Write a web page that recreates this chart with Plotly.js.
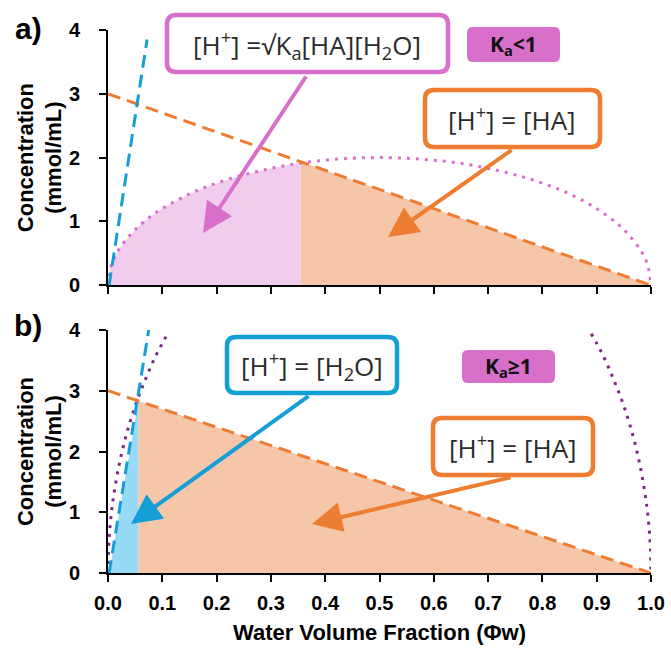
<!DOCTYPE html>
<html><head><meta charset="utf-8">
<script src="https://cdn.plot.ly/plotly-3.0.1.min.js"></script>
<style>html,body{margin:0;padding:0;background:#fff}#chart{width:671px;height:654px}</style>
</head><body><div id="chart"></div>
<script>
// ---- data ----
const xTicks = [0,0.1,0.2,0.3,0.4,0.5,0.6,0.7,0.8,0.9,1.0];
const xTickText = ['0.0','0.1','0.2','0.3','0.4','0.5','0.6','0.7','0.8','0.9','1.0'];
const yTicks = [0,1,2,3,4];

// [HA] line (both panels)
const haX = [0, 1];
const haY = [3, 0];

// [H2O] line
const h2oTopX = [0.002, 0.072];
const h2oTopY = [0, 3.85];
const h2oBotX = [0.002, 0.075];
const h2oBotY = [0, 4.0];

// sqrt(Ka[HA][H2O]) curve, Ka<1 panel
const sqrtAX = [0,0.005,0.01,0.02,0.04,0.06,0.08,0.1,0.15,0.2,0.25,0.3,0.35,0.4,0.45,0.5,0.55,0.6,0.65,0.7,0.75,0.8,0.85,0.9,0.94,0.96,0.98,0.99,0.995,1.0];
const sqrtAY = [0,0.28,0.40,0.56,0.78,0.95,1.09,1.20,1.43,1.60,1.73,1.83,1.91,1.96,1.99,2.00,1.99,1.96,1.91,1.83,1.73,1.60,1.43,1.20,0.95,0.78,0.56,0.40,0.28,0];

// sqrt curve, Ka>=1 panel (left and right branches)
const sqrtBLX = [0,0.001,0.003,0.006,0.01,0.02,0.03,0.04,0.05,0.06,0.07,0.08,0.09,0.10,0.11];
const sqrtBLY = [0,0.40,0.69,0.97,1.25,1.76,2.15,2.47,2.75,2.99,3.21,3.42,3.61,3.78,3.94];
const sqrtBRX = [0.89,0.90,0.91,0.92,0.93,0.94,0.95,0.96,0.97,0.98,0.99,0.994,0.997,0.999,1.0];
const sqrtBRY = [3.94,3.78,3.61,3.42,3.21,2.99,2.75,2.47,2.15,1.76,1.25,0.97,0.69,0.40,0];

// crossover points
const crossA = [0.355, 1.935];   // sqrt curve meets [HA]
const crossB = [0.056, 2.83];    // [H2O] meets [HA]

// ---- colours ----
const ORANGE = '#ED7D31', ORANGE_FILL = '#F6C6A9';
const PINK = '#D86FCB', PINK_FILL = '#F1CCEC';
const BLUE = '#159FD7', BLUE_FILL = '#97DAF6';
const PURPLE = '#7B2A7F';

// fill regions built from the arrays
const pinkFillX = sqrtAX.filter(x => x < crossA[0]).concat([crossA[0]]);
const pinkFillY = sqrtAY.slice(0, pinkFillX.length - 1).concat([crossA[1]]);
const orFillAX = [crossA[0], haX[1]];
const orFillAY = [crossA[1], haY[1]];
const blueFillX = [h2oBotX[0], crossB[0]];
const blueFillY = [h2oBotY[0], crossB[1]];
const orFillBX = [crossB[0], haX[1]];
const orFillBY = [crossB[1], haY[1]];

const DASH = '13px,7px';
const DOT = '3px,6px';

const traces = [
  // top panel (x2,y2)
  {x: pinkFillX, y: pinkFillY, xaxis:'x2', yaxis:'y2', mode:'none', fill:'tozeroy', fillcolor: PINK_FILL, hoverinfo:'skip'},
  {x: orFillAX, y: orFillAY, xaxis:'x2', yaxis:'y2', mode:'none', fill:'tozeroy', fillcolor: ORANGE_FILL, hoverinfo:'skip'},
  {x: sqrtAX, y: sqrtAY, xaxis:'x2', yaxis:'y2', mode:'lines', line:{color: PINK, width:3, dash: DOT, shape:'spline'}},
  {x: haX, y: haY, xaxis:'x2', yaxis:'y2', mode:'lines', line:{color: ORANGE, width:3, dash: DASH}},
  {x: h2oTopX, y: h2oTopY, xaxis:'x2', yaxis:'y2', mode:'lines', line:{color: BLUE, width:3, dash: DASH}},
  // bottom panel (x,y)
  {x: blueFillX, y: blueFillY, xaxis:'x', yaxis:'y', mode:'none', fill:'tozeroy', fillcolor: BLUE_FILL, hoverinfo:'skip'},
  {x: orFillBX, y: orFillBY, xaxis:'x', yaxis:'y', mode:'none', fill:'tozeroy', fillcolor: ORANGE_FILL, hoverinfo:'skip'},
  {x: sqrtBLX, y: sqrtBLY, xaxis:'x', yaxis:'y', mode:'lines', line:{color: PURPLE, width:3, dash: DOT, shape:'spline'}},
  {x: sqrtBRX, y: sqrtBRY, xaxis:'x', yaxis:'y', mode:'lines', line:{color: PURPLE, width:3, dash: DOT, shape:'spline'}},
  {x: haX, y: haY, xaxis:'x', yaxis:'y', mode:'lines', line:{color: ORANGE, width:3, dash: DASH}},
  {x: h2oBotX, y: h2oBotY, xaxis:'x', yaxis:'y', mode:'lines', line:{color: BLUE, width:3, dash: DASH}},
];

// ---- layout helpers (pixel -> paper) ----
const W = 671, H = 654, ML = 108, MR = 20, MT = 30, MB = 81;
const PW = W - ML - MR, PH = H - MT - MB;
const px = v => (v - ML) / PW;
const py = v => (H - MB - v) / PH;
function rrect(x0, y0, x1, y1, r) {
  const X = v => px(v).toFixed(5), Y = v => py(v).toFixed(5);
  return `M${X(x0+r)},${Y(y0)} L${X(x1-r)},${Y(y0)} Q${X(x1)},${Y(y0)} ${X(x1)},${Y(y0+r)} ` +
         `L${X(x1)},${Y(y1-r)} Q${X(x1)},${Y(y1)} ${X(x1-r)},${Y(y1)} L${X(x0+r)},${Y(y1)} ` +
         `Q${X(x0)},${Y(y1)} ${X(x0)},${Y(y1-r)} L${X(x0)},${Y(y0+r)} Q${X(x0)},${Y(y0)} ${X(x0+r)},${Y(y0)} Z`;
}
function box(x0,y0,x1,y1,color,filled,r){
  return {type:'path', xref:'paper', yref:'paper', path: rrect(x0,y0,x1,y1,r||9),
    line:{color: color, width: filled?0:4.5}, fillcolor: filled?color:'#ffffff', layer:'above'};
}
const BOXFONT = {family:'Open Sans, Noto Sans, sans-serif', size:26, color:'#2b2b2b'};
function label(text, cx, cy, font){
  return {text, xref:'paper', yref:'paper', x:px(cx), y:py(cy), showarrow:false, xanchor:'center', yanchor:'middle', font: font||BOXFONT};
}
function arrow(tx, ty, hx, hy, color){
  return {text:'', xref:'paper', yref:'paper', x:px(hx), y:py(hy), axref:'pixel', ayref:'pixel',
    ax: tx-hx, ay: ty-hy, showarrow:true, arrowhead:2, arrowsize:1.5, arrowwidth:4, arrowcolor:color};
}

const tickFont = {family:'Liberation Sans, Arial, sans-serif', size:20, color:'#000', weight:'bold'};
const titleFont = {family:'Liberation Sans, Arial, sans-serif', size:22, color:'#000', weight:'bold'};
const axBase = {showline:true, linecolor:'#000', linewidth:2, ticks:'outside', ticklen:7, tickwidth:2, tickcolor:'#000',
  showgrid:false, zeroline:false, tickfont: tickFont, fixedrange:true};

const BADGEFONT = {family:'Open Sans, sans-serif', size:21, color:'#111'};
const PANELFONT = {family:'Liberation Sans, Arial, sans-serif', size:30, color:'#000'};
const layout = {
  width: W, height: H, margin:{l:ML, r:MR, t:MT, b:MB}, paper_bgcolor:'#fff', plot_bgcolor:'#fff', showlegend:false,
  xaxis: Object.assign({}, axBase, {range:[0,1], tickvals:xTicks, ticktext:xTickText, anchor:'y', ticklabelstandoff:4,
    title:{text:'Water Volume Fraction (Φw)', font:titleFont, standoff:12}}),
  yaxis: Object.assign({}, axBase, {range:[0,4], tickvals:yTicks, domain:[0,0.4475], anchor:'x', ticklabelstandoff:15,
    title:{text:'Concentration<br>(mmol/mL)', font:titleFont, standoff:1}}),
  xaxis2: Object.assign({}, axBase, {range:[0,1], tickvals:xTicks, showticklabels:false, anchor:'y2', matches:'x'}),
  yaxis2: Object.assign({}, axBase, {range:[0,4], tickvals:yTicks, domain:[0.530,1], anchor:'x2', ticklabelstandoff:15,
    title:{text:'Concentration<br>(mmol/mL)', font:titleFont, standoff:1}}),
  shapes: [
    box(167,15,448,72,PINK,false),
    box(467,27,560,62,PINK,true,6),
    box(425,90,600,147,ORANGE,false),
    box(227,337,397,393,BLUE,false),
    box(462,350,555,383,PINK,true,6),
    box(433,418,593,475,ORANGE,false),
  ],
  annotations: [
    arrow(307,75,203,233,PINK),
    arrow(513,149,388,237,ORANGE),
    arrow(310,395,131,524,BLUE),
    arrow(512,477,312,524,ORANGE),
    label('[H<sup>+</sup>] =√K<sub>a</sub>[HA][H<sub>2</sub>O]', 307, 45),
    label('<b>K<sub>a</sub><1</b>', 513, 45, BADGEFONT),
    label('[H<sup>+</sup>] = [HA]', 512, 119),
    label('[H<sup>+</sup>] = [H<sub>2</sub>O]', 312, 366),
    label('<b>K<sub>a</sub>≥1</b>', 508, 367, BADGEFONT),
    label('[H<sup>+</sup>] = [HA]', 513, 447),
    label('<b>a)</b>', 28, 28, PANELFONT),
    label('<b>b)</b>', 28, 325, PANELFONT),
  ]
};
Plotly.newPlot('chart', traces, layout, {displayModeBar:false, staticPlot:true});
</script></body></html>
